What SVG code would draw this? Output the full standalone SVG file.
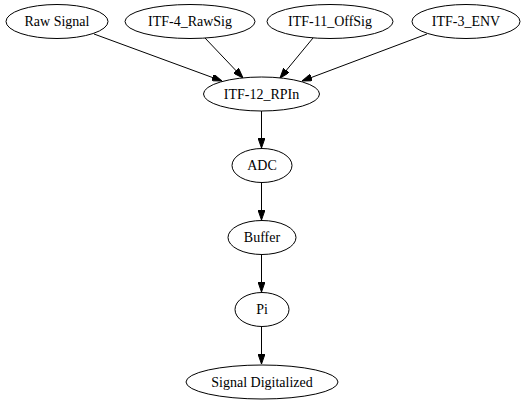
<svg xmlns="http://www.w3.org/2000/svg" width="529" height="404" viewBox="0 0 529 404">
<style>
.node ellipse{fill:#fff;stroke:#000;stroke-width:1}
.node text{font-family:"Liberation Serif","Times New Roman",serif;font-size:14px;text-anchor:middle;fill:#000}
.edge{stroke:#000;stroke-width:1;fill:none;marker-end:url(#arrow)}
</style>
<defs>
<marker id="arrow" markerUnits="userSpaceOnUse" markerWidth="10" markerHeight="7" refX="10" refY="3.5" orient="auto">
<path d="M0,0 L10,3.5 L0,7 z" fill="#000" stroke="#000" stroke-width="1"/>
</marker>
</defs>
<rect width="529" height="404" fill="#fff"/>
<g id="connectors">
<line class="edge" x1="94" y1="34" x2="222" y2="81"/>
<line class="edge" x1="205" y1="38" x2="243" y2="78"/>
<line class="edge" x1="313" y1="38" x2="280" y2="78"/>
<line class="edge" x1="427" y1="34" x2="302" y2="81"/>
<line class="edge" x1="261.5" y1="111" x2="261.5" y2="148"/>
<line class="edge" x1="261.5" y1="183" x2="261.5" y2="220"/>
<line class="edge" x1="261.5" y1="255" x2="261.5" y2="292"/>
<line class="edge" x1="261.5" y1="327" x2="261.5" y2="364"/>
</g>
<g id="raw_signal" class="node"><ellipse cx="57" cy="21.5" rx="51" ry="17"/><text x="57" y="26">Raw Signal</text></g>
<g id="itf4" class="node"><ellipse cx="190" cy="21.5" rx="65" ry="17"/><text x="190" y="26">ITF-4_RawSig</text></g>
<g id="itf11" class="node"><ellipse cx="330" cy="21.5" rx="63" ry="17"/><text x="330" y="26">ITF-11_OffSig</text></g>
<g id="itf3" class="node"><ellipse cx="466" cy="21.5" rx="54" ry="17"/><text x="466" y="26">ITF-3_ENV</text></g>
<g id="itf12" class="node"><ellipse cx="261.5" cy="94" rx="58" ry="17"/><text x="261.5" y="98.5">ITF-12_RPIn</text></g>
<g id="adc" class="node"><ellipse cx="262" cy="165.5" rx="30" ry="17"/><text x="262" y="170">ADC</text></g>
<g id="buffer" class="node"><ellipse cx="262" cy="237.5" rx="34" ry="17"/><text x="262" y="242">Buffer</text></g>
<g id="pi" class="node"><ellipse cx="262" cy="309.5" rx="27" ry="17"/><text x="262" y="314">Pi</text></g>
<g id="signal_digitalized" class="node"><ellipse cx="262" cy="382" rx="76" ry="17"/><text x="262" y="386.5">Signal Digitalized</text></g>
</svg>
